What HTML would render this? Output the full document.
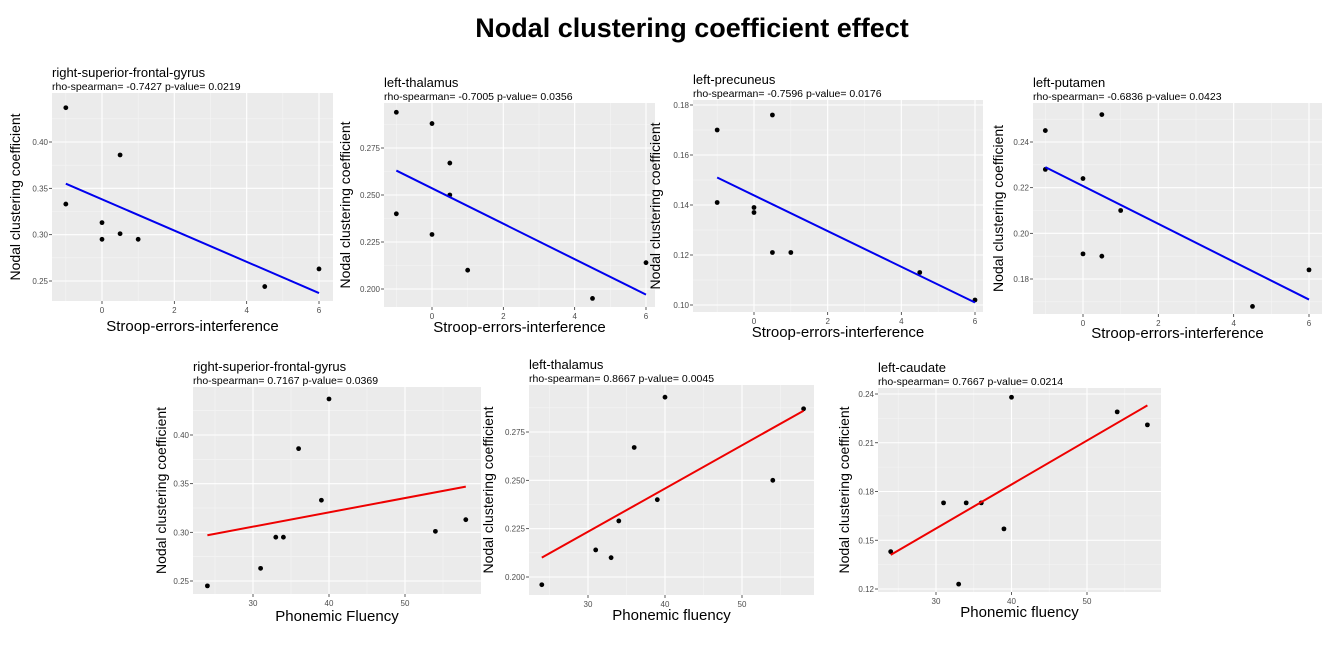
<!DOCTYPE html>
<html><head><meta charset="utf-8"><style>
body{margin:0;background:#fff;width:1333px;height:643px;overflow:hidden;font-family:"Liberation Sans",sans-serif}
</style></head><body>
<svg id="fig" width="1333" height="643" xmlns="http://www.w3.org/2000/svg">
<text x="692" y="37" text-anchor="middle" font-size="27" font-weight="bold" fill="#000">Nodal clustering coefficient effect</text>
</svg>
<script>
// Panel 1: right-superior-frontal-gyrus vs Stroop
const p1X=[-1,-1,0,0,0.5,0.5,1,4.5,6];
const p1Y=[0.437,0.333,0.313,0.295,0.386,0.301,0.295,0.244,0.263];
const p1Fit=[0.355,0.237];
// Panel 2: left-thalamus vs Stroop
const p2X=[-1,-1,0,0,0.5,0.5,1,4.5,6];
const p2Y=[0.294,0.240,0.288,0.229,0.267,0.250,0.210,0.195,0.214];
const p2Fit=[0.263,0.197];
// Panel 3: left-precuneus vs Stroop
const p3X=[-1,-1,0,0,0.5,0.5,1,4.5,6];
const p3Y=[0.170,0.141,0.139,0.137,0.176,0.121,0.121,0.113,0.102];
const p3Fit=[0.151,0.101];
// Panel 4: left-putamen vs Stroop
const p4X=[-1,-1,0,0,0.5,0.5,1,4.5,6];
const p4Y=[0.245,0.228,0.224,0.191,0.252,0.190,0.210,0.168,0.184];
const p4Fit=[0.229,0.171];
// Panel 5: rsfg vs phonemic fluency
const p5X=[24,31,33,34,36,39,40,54,58];
const p5Y=[0.245,0.263,0.295,0.295,0.386,0.333,0.437,0.301,0.313];
const p5Fit=[0.297,0.347];
// Panel 6: left-thalamus vs phonemic fluency
const p6X=[24,31,33,34,36,39,40,54,58];
const p6Y=[0.196,0.214,0.210,0.229,0.267,0.240,0.293,0.250,0.287];
const p6Fit=[0.210,0.286];
// Panel 7: left-caudate vs phonemic fluency
const p7X=[24,31,33,34,36,39,40,54,58];
const p7Y=[0.143,0.173,0.123,0.173,0.173,0.157,0.238,0.229,0.221];
const p7Fit=[0.141,0.233];
const stroopTicks=[0,2,4,6];
const fluTicks=[30,40,50];
const p1YT=[0.25,0.30,0.35,0.40];
const p2YT=[0.200,0.225,0.250,0.275];
const p3YT=[0.10,0.12,0.14,0.16,0.18];
const p4YT=[0.18,0.20,0.22,0.24];
const p5YT=[0.25,0.30,0.35,0.40];
const p6YT=[0.200,0.225,0.250,0.275];
const p7YT=[0.12,0.15,0.18,0.21,0.24];

const NS="http://www.w3.org/2000/svg";
const svg=document.getElementById('fig');
function mk(tag,attrs,parent){const e=document.createElementNS(NS,tag);for(const k in attrs)e.setAttribute(k,attrs[k]);(parent||svg).appendChild(e);return e;}

const panels=[
 {id:'p1',title:'right-superior-frontal-gyrus',sub:'rho-spearman= -0.7427  p-value= 0.0219',xl:'Stroop-errors-interference',
  L:52,R:333,T:93,B:301,xa:[0,102,6,319],ya:[0.40,142,0.25,281],xs:p1X,ys:p1Y,fit:p1Fit,xt:stroopTicks,yt:p1YT,dec:2,col:'#0000ee',yc:20,xlY:331},
 {id:'p2',title:'left-thalamus',sub:'rho-spearman= -0.7005  p-value= 0.0356',xl:'Stroop-errors-interference',
  L:384,R:655,T:103,B:307,xa:[0,432,6,646],ya:[0.275,148,0.200,289],xs:p2X,ys:p2Y,fit:p2Fit,xt:stroopTicks,yt:p2YT,dec:3,col:'#0000ee',yc:350,xlY:332},
 {id:'p3',title:'left-precuneus',sub:'rho-spearman= -0.7596  p-value= 0.0176',xl:'Stroop-errors-interference',
  L:693,R:983,T:100,B:312,xa:[0,754,6,975],ya:[0.18,105,0.10,305],xs:p3X,ys:p3Y,fit:p3Fit,xt:stroopTicks,yt:p3YT,dec:2,col:'#0000ee',yc:660,xlY:337},
 {id:'p4',title:'left-putamen',sub:'rho-spearman= -0.6836  p-value= 0.0423',xl:'Stroop-errors-interference',
  L:1033,R:1322,T:103,B:314,xa:[0,1083,6,1309],ya:[0.24,142,0.18,279],xs:p4X,ys:p4Y,fit:p4Fit,xt:stroopTicks,yt:p4YT,dec:2,col:'#0000ee',yc:1003,xlY:338},
 {id:'p5',title:'right-superior-frontal-gyrus',sub:'rho-spearman= 0.7167  p-value= 0.0369',xl:'Phonemic Fluency',
  L:193,R:481,T:387,B:594,xa:[30,253,50,405],ya:[0.40,435,0.25,581],xs:p5X,ys:p5Y,fit:p5Fit,xt:fluTicks,yt:p5YT,dec:2,col:'#ee0000',yc:166,xlY:621},
 {id:'p6',title:'left-thalamus',sub:'rho-spearman= 0.8667  p-value= 0.0045',xl:'Phonemic fluency',
  L:529,R:814,T:385,B:595,xa:[30,588,50,742],ya:[0.275,432,0.200,577],xs:p6X,ys:p6Y,fit:p6Fit,xt:fluTicks,yt:p6YT,dec:3,col:'#ee0000',yc:493,xlY:620},
 {id:'p7',title:'left-caudate',sub:'rho-spearman= 0.7667  p-value= 0.0214',xl:'Phonemic fluency',
  L:878,R:1161,T:388,B:592,xa:[30,936,50,1087],ya:[0.24,394,0.12,589],xs:p7X,ys:p7Y,fit:p7Fit,xt:fluTicks,yt:p7YT,dec:2,col:'#ee0000',yc:849,xlY:617}
];

panels.forEach(p=>{
 const sx=v=>p.xa[1]+(v-p.xa[0])*(p.xa[3]-p.xa[1])/(p.xa[2]-p.xa[0]);
 const sy=v=>p.ya[1]+(v-p.ya[0])*(p.ya[3]-p.ya[1])/(p.ya[2]-p.ya[0]);
 const g=mk('g',{});
 
 
 const bg=mk('rect',{x:p.L,y:p.T,width:p.R-p.L,height:p.B-p.T,fill:'#ebebeb'},g);
 
 
 const xstep=p.xt[1]-p.xt[0], ystep=p.yt[1]-p.yt[0];
 for(let v=p.xt[0]-xstep*2.5;v<=p.xt[p.xt.length-1]+xstep*2;v+=xstep){const X=sx(v);if(X>p.L&&X<p.R)mk('line',{x1:X,x2:X,y1:p.T,y2:p.B,stroke:'#f5f5f5','stroke-width':0.6},g);}
 for(let v=p.yt[0]-ystep*1.5;v<=p.yt[p.yt.length-1]+ystep*2;v+=ystep){const Y=sy(v);if(Y>p.T&&Y<p.B)mk('line',{x1:p.L,x2:p.R,y1:Y,y2:Y,stroke:'#f5f5f5','stroke-width':0.6},g);}
 p.xt.forEach(v=>{const X=sx(v);
  const gl=mk('line',{x1:X,x2:X,y1:p.T,y2:p.B,stroke:'#fff','stroke-width':1.1},g);
  
  
  mk('line',{x1:X,x2:X,y1:p.B,y2:p.B+3,stroke:'#333','stroke-width':0.8},g);
  const t=mk('text',{x:X,y:p.B+12,'text-anchor':'middle','font-size':8,fill:'#4d4d4d'},g);t.textContent=String(v);
  
  });
 p.yt.forEach(v=>{const Y=sy(v);
  const gl=mk('line',{x1:p.L,x2:p.R,y1:Y,y2:Y,stroke:'#fff','stroke-width':1.1},g);
  
  
  mk('line',{x1:p.L-3,x2:p.L,y1:Y,y2:Y,stroke:'#333','stroke-width':0.8},g);
  const t=mk('text',{x:p.L-4,y:Y+3,'text-anchor':'end','font-size':8,fill:'#4d4d4d'},g);t.textContent=v.toFixed(p.dec);
  
  });
 p.xs.forEach((v,i)=>{const c=mk('circle',{cx:sx(v),cy:sy(p.ys[i]),r:2.4,fill:'#000'},g);
  
  });
 const xmin=Math.min(...p.xs),xmax=Math.max(...p.xs);
 const ln=mk('line',{x1:sx(xmin),y1:sy(p.fit[0]),x2:sx(xmax),y2:sy(p.fit[1]),stroke:p.col,'stroke-width':2},g);
 
 
 const tt=mk('text',{x:p.L,y:p.T-16,'font-size':13,fill:'#000'},g);tt.textContent=p.title;
 
 
 const st=mk('text',{x:p.L,y:p.T-3,'font-size':10.5,fill:'#000'},g);st.textContent=p.sub;
 
 
 const xl=mk('text',{x:(p.L+p.R)/2,y:p.xlY,'text-anchor':'middle','font-size':15,fill:'#000'},g);xl.textContent=p.xl;
 
 
 const cy=(p.T+p.B)/2;
 const yl=mk('text',{x:p.yc,y:cy,'text-anchor':'middle','font-size':14,fill:'#000',transform:`rotate(-90 ${p.yc} ${cy})`},g);yl.textContent='Nodal clustering coefficient';
 
 
});
</script>
</body></html>
